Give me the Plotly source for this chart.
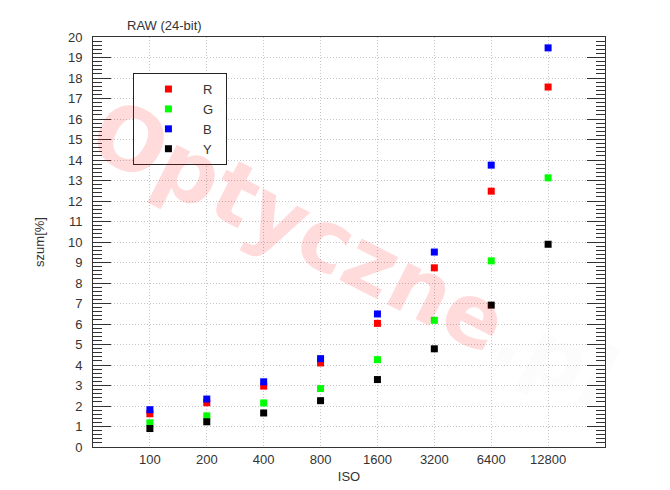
import plotly.graph_objects as go

iso = ["100", "200", "400", "800", "1600", "3200", "6400", "12800"]
r_vals = [1.62, 2.16, 2.97, 4.10, 6.03, 8.74, 12.48, 17.56]
g_vals = [1.18, 1.52, 2.15, 2.85, 4.26, 6.18, 9.08, 13.13]
b_vals = [1.82, 2.34, 3.18, 4.31, 6.49, 9.51, 13.75, 19.47]
y_vals = [0.90, 1.23, 1.66, 2.26, 3.29, 4.79, 6.92, 9.89]

series = [("R", r_vals, "#ff0000"), ("G", g_vals, "#00ff00"),
          ("B", b_vals, "#0000ff"), ("Y", y_vals, "#000000")]

FONT = "Liberation Sans, Arial, sans-serif"
GRID = dict(showgrid=True, gridcolor="#c4c4c4", griddash="1px,2px", gridwidth=1)

fig = go.Figure()
for name, vals, col in series:
    fig.add_trace(go.Scatter(x=iso, y=vals, mode="markers",
                             name=name + "\u00a0\u00a0",
                             marker=dict(symbol="square", size=7, color=col,
                                         line=dict(width=0))))

fig.update_layout(
    width=670, height=490,
    margin=dict(l=93, r=65, t=37, b=43),
    paper_bgcolor="white", plot_bgcolor="white",
    font=dict(family=FONT, size=13, color="#333"),
    showlegend=True,
    legend=dict(x=0.078, y=0.912, xanchor="left", yanchor="top",
                bgcolor="white", bordercolor="#222", borderwidth=1,
                itemwidth=59, font=dict(size=13, color="#333")),
    xaxis=dict(type="category", range=[-1, 8], showline=True, linecolor="#333",
               linewidth=1, mirror=True, ticks="", automargin=False,
               ticklabelstandoff=0,
               title=dict(text="ISO", standoff=6, font=dict(size=13)),
               zeroline=False, **GRID),
    yaxis=dict(range=[0, 20], dtick=1, showline=True, linecolor="#333",
               linewidth=1, mirror="ticks", ticks="inside", ticklen=18,
               tickcolor="#333", tickwidth=1, automargin=False,
               ticklabelstandoff=7,
               minor=dict(dtick=0.2, ticks="inside", ticklen=9,
                          tickcolor="#333", tickwidth=1, showgrid=False),
               title=dict(text="szum[%]", standoff=20, font=dict(size=13)),
               zeroline=False, **GRID),
)

fig.add_annotation(text="<b>Optyczne</b><span style='color:rgba(0,0,0,0.09)'><b>.pl</b></span>",
                   xref="paper", yref="paper", x=0.51, y=0.47,
                   showarrow=False, textangle=27,
                   font=dict(family="DejaVu Sans, sans-serif", size=86,
                             color="rgba(255,0,0,0.14)"))

fig.add_annotation(text="RAW (24-bit)", xref="paper", yref="paper",
                   x=0.062, y=1.029, xanchor="left", yanchor="middle",
                   showarrow=False, font=dict(size=13, color="#333"))

fig.write_html("out.html", config={"displayModeBar": False},
               post_script="document.body.style.margin='0';")
